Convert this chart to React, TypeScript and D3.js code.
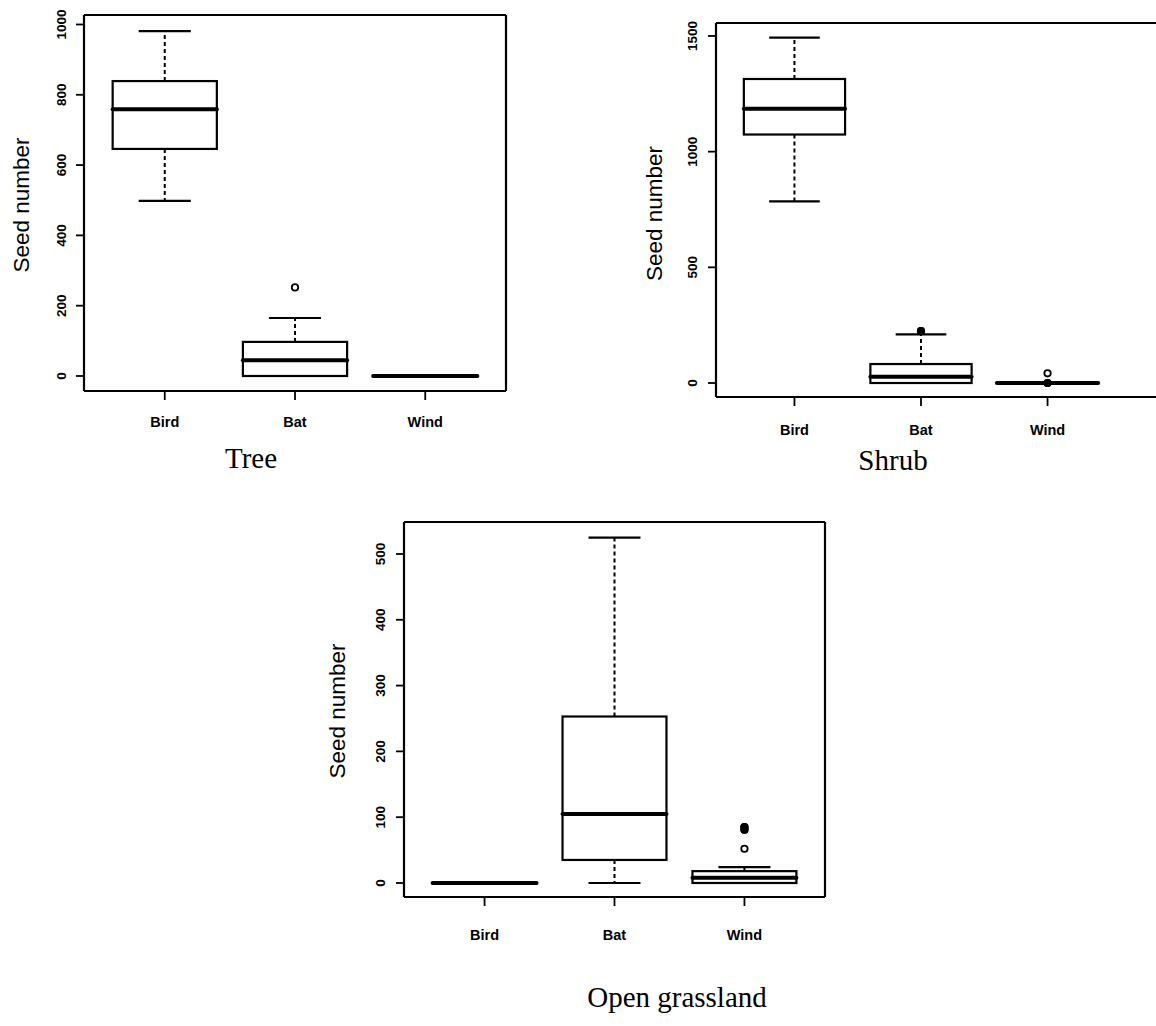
import React from "react";
import * as d3 from "d3";

// ---------- data ----------
const categories = ["Bird", "Bat", "Wind"];

// [lower whisker, Q1, median, Q3, upper whisker]
const treeStats = [
  [498, 646, 759, 839, 981],
  [0, 0, 45, 97, 165],
  [0, 0, 0, 0, 0],
];
const treeOutliers = [[], [252], []];
const treeTicks = [0, 200, 400, 600, 800, 1000];

const shrubStats = [
  [785, 1074, 1185, 1314, 1493],
  [0, 0, 27, 82, 210],
  [0, 0, 0, 0, 0],
];
const shrubOutliers = [[], [224, 224], [42, 0, 0]];
const shrubTicks = [0, 500, 1000, 1500];

const grassStats = [
  [0, 0, 0, 0, 0],
  [0, 35, 105, 253, 525],
  [0, 0, 8, 18, 24],
];
const grassOutliers = [[], [], [52, 81, 81, 85, 85]];
const grassTicks = [0, 100, 200, 300, 400, 500];

const titles = ["Tree", "Shrub", "Open grassland"];
const yLabel = "Seed number";

// ---------- layout ----------
type Panel = {
  title: string;
  stats: number[][];
  outliers: number[][];
  ticks: number[];
  left: number;
  right: number;
  frameRight: number;
  drawRight: boolean;
  top: number;
  bottom: number;
  yDomain: [number, number];
  tickLabelX: number;
  yLabelX: number;
  yLabelY: number;
  xLabelY: number;
  titleX: number;
  titleY: number;
};

const panels: Panel[] = [
  {
    title: titles[0], stats: treeStats, outliers: treeOutliers, ticks: treeTicks,
    left: 84, right: 506, frameRight: 506, drawRight: true, top: 15, bottom: 391,
    yDomain: [-42.7, 1027], tickLabelX: 65.5, yLabelX: 28.5, yLabelY: 205,
    xLabelY: 427, titleX: 251, titleY: 468,
  },
  {
    title: titles[1], stats: shrubStats, outliers: shrubOutliers, ticks: shrubTicks,
    left: 716, right: 1126, frameRight: 1160, drawRight: false, top: 23, bottom: 397,
    yDomain: [-60.5, 1556], tickLabelX: 697, yLabelX: 662, yLabelY: 213.5,
    xLabelY: 435, titleX: 893, titleY: 470,
  },
  {
    title: titles[2], stats: grassStats, outliers: grassOutliers, ticks: grassTicks,
    left: 404, right: 825, frameRight: 825, drawRight: true, top: 522, bottom: 897,
    yDomain: [-21.3, 548.6], tickLabelX: 385, yLabelX: 345, yLabelY: 711,
    xLabelY: 940, titleX: 677, titleY: 1007,
  },
];

const SANS = "'Liberation Sans', Arial, Helvetica, sans-serif";
const SERIF = "'Liberation Serif', 'Times New Roman', serif";

function BoxPanel({ p }: { p: Panel }) {
  const x = d3.scalePoint<string>().domain(categories).range([p.left, p.right]).padding(0.62);
  const y = d3.scaleLinear().domain(p.yDomain).range([p.bottom, p.top]);
  const step = x.step();
  const bw = step * 0.8;
  const cw = bw / 2;

  return (
    <g>
      <line x1={p.left} x2={p.frameRight} y1={p.top} y2={p.top} stroke="#000" strokeWidth={2.2} />
      <line x1={p.left} x2={p.frameRight} y1={p.bottom} y2={p.bottom} stroke="#000" strokeWidth={2.2} />
      <line x1={p.left} x2={p.left} y1={p.top} y2={p.bottom} stroke="#000" strokeWidth={2.2} />
      {p.drawRight && (
        <line x1={p.frameRight} x2={p.frameRight} y1={p.top} y2={p.bottom} stroke="#000" strokeWidth={2.2} />
      )}

      {p.ticks.map((t) => (
        <g key={"yt" + t}>
          <line x1={p.left - 8} x2={p.left} y1={y(t)} y2={y(t)} stroke="#000" strokeWidth={1.8} />
          <text
            transform={`translate(${p.tickLabelX},${y(t)}) rotate(-90)`}
            textAnchor="middle"
            fontFamily={SANS}
            fontWeight="bold"
            fontSize={13.5}
            fill="#000"
          >
            {t}
          </text>
        </g>
      ))}

      {categories.map((c) => (
        <g key={"xt" + c}>
          <line x1={x(c)!} x2={x(c)!} y1={p.bottom} y2={p.bottom + 9} stroke="#000" strokeWidth={1.8} />
          <text x={x(c)!} y={p.xLabelY} textAnchor="middle" fontFamily={SANS} fontWeight="bold" fontSize={14.5} fill="#000">
            {c}
          </text>
        </g>
      ))}

      {categories.map((c, i) => {
        const [lo, q1, med, q3, hi] = p.stats[i];
        const cx = x(c)!;
        const outs = p.outliers[i];
        return (
          <g key={"b" + c}>
            <line x1={cx} x2={cx} y1={y(q3)} y2={y(hi)} stroke="#000" strokeWidth={2} strokeDasharray="4,3" />
            <line x1={cx} x2={cx} y1={y(q1)} y2={y(lo)} stroke="#000" strokeWidth={2} strokeDasharray="4,3" />
            <line x1={cx - cw / 2} x2={cx + cw / 2} y1={y(hi)} y2={y(hi)} stroke="#000" strokeWidth={2.2} />
            <line x1={cx - cw / 2} x2={cx + cw / 2} y1={y(lo)} y2={y(lo)} stroke="#000" strokeWidth={2.2} />
            <rect
              x={cx - bw / 2}
              y={y(q3)}
              width={bw}
              height={Math.max(0, y(q1) - y(q3))}
              fill="#fff"
              stroke="#000"
              strokeWidth={2.2}
            />
            <line x1={cx - bw / 2} x2={cx + bw / 2} y1={y(med)} y2={y(med)} stroke="#000" strokeWidth={4} strokeLinecap="round" />
            {outs.map((v, k) => {
              const dup = outs.filter((w) => w === v).length > 1;
              return (
                <circle
                  key={k}
                  cx={cx}
                  cy={y(v)}
                  r={3.2}
                  fill={dup ? "#000" : "#fff"}
                  stroke="#000"
                  strokeWidth={1.8}
                />
              );
            })}
          </g>
        );
      })}

      <text
        transform={`translate(${p.yLabelX},${p.yLabelY}) rotate(-90)`}
        textAnchor="middle"
        fontFamily={SANS}
        fontSize={22.5}
        fill="#000"
      >
        {yLabel}
      </text>

      <text x={p.titleX} y={p.titleY} textAnchor="middle" fontFamily={SERIF} fontSize={29} fill="#000">
        {p.title}
      </text>
    </g>
  );
}

export default function App() {
  return (
    <svg
      width={1156}
      height={1026}
      style={{ position: "absolute", left: 0, top: 0, background: "#fff" }}
    >
      <rect x={0} y={0} width={1156} height={1026} fill="#fff" />
      {panels.map((p) => (
        <BoxPanel key={p.title} p={p} />
      ))}
    </svg>
  );
}
